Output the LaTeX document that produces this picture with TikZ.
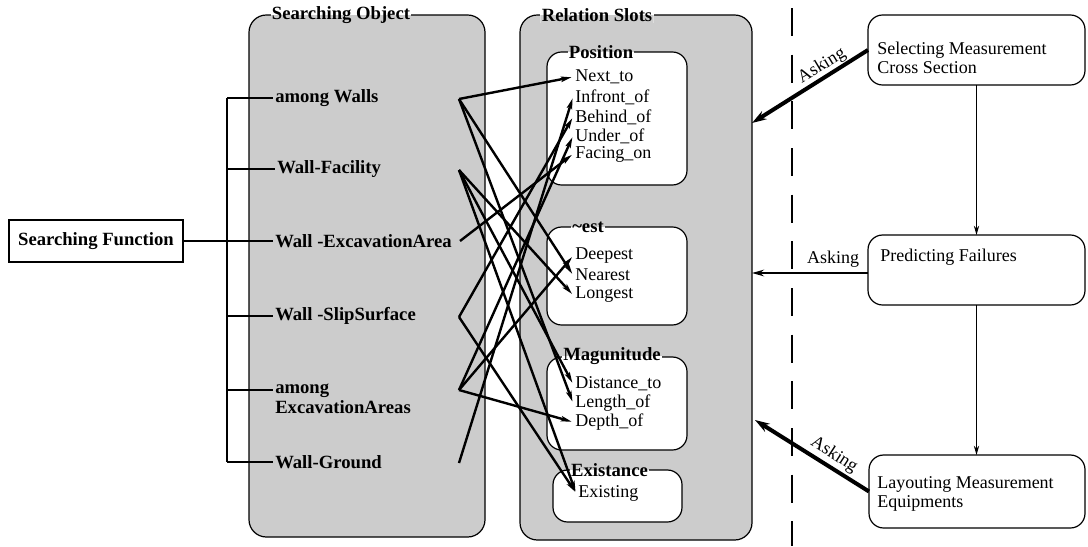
\documentclass[tikz,border=0pt]{standalone}
\usepackage{fontspec}
\setmainfont{Liberation Serif}
\usetikzlibrary{arrows.meta,calc}
\definecolor{dotgray}{gray}{0.8}
\begin{document}
\begin{tikzpicture}[x=0.75pt,y=-0.75pt,
  txt/.style={font=\fontsize{13.5}{14.25}\selectfont, inner sep=1.5pt},
  btxt/.style={font=\fontsize{14}{15}\selectfont\bfseries, inner sep=1.5pt},
  panel/.style={draw, line width=0.9pt, rounded corners=13pt, fill=dotgray, inner sep=0pt, outer sep=0pt},
  slot/.style={draw, line width=0.9pt, rounded corners=11pt, fill=white, inner sep=0pt, outer sep=0pt},
  proc/.style={draw, line width=0.9pt, rounded corners=11pt, inner sep=0pt, outer sep=0pt},
  toptitle/.style={btxt, inner sep=1pt, fill=white,
    path picture={\fill[dotgray] (path picture bounding box.west) rectangle (path picture bounding box.south east);}},
  subtitle/.style={btxt, inner sep=1pt, fill=white,
    path picture={\fill[dotgray] (path picture bounding box.north west) rectangle (path picture bounding box.east);}},
  item/.style={txt, anchor=west},
  obj/.style={btxt, anchor=west, align=left},
  link/.style={line width=1.8pt, -{Stealth[length=8pt,width=4pt,inset=1.5pt]}, shorten >=1pt},
  ask/.style={line width=3pt, -{Stealth[length=11pt,width=7pt]}},
  askh/.style={line width=1.5pt, -{Stealth[length=9pt,width=5pt]}},
  flow/.style={line width=0.8pt, -{Stealth[length=7pt,width=4pt]}},
  tie/.style={line width=1pt}]

\useasboundingbox (0,0) rectangle (1088,546);

% ---- containers ----
\node[panel, minimum width=177pt, minimum height=391.5pt] (so) at (367,276) {};
\node[panel, minimum width=174pt, minimum height=393.75pt] (rs) at (636,277.5) {};

\node[slot, minimum width=105pt, minimum height=99.75pt] (pos) at (617,118.5) {};
\node[slot, minimum width=105pt, minimum height=73.5pt]  (est) at (617,276) {};
\node[slot, minimum width=105pt, minimum height=69.75pt] (mag) at (617,403.5) {};
\node[slot, minimum width=96.75pt, minimum height=39pt]  (exb) at (617.5,496) {};

% ---- titles on the borders ----
\node[toptitle] (soT) at (341,15) {Searching Object};
\node[toptitle] (rsT) at (597,15) {Relation Slots};
\node[subtitle] (posT) at (601,52) {Position};
\node[subtitle] (estT) at (588,227) {\textasciitilde est};
\node[subtitle] (magT) at (612,356) {Magunitude};
\node[subtitle] (exbT) at (609.5,470) {Existance};

% ---- slot entries ----
\node[item] (nxt) at (573,77)  {Next\_to};
\node[item] (inf) at (573,97)  {Infront\_of};
\node[item] (beh) at (573,117) {Behind\_of};
\node[item] (und) at (573,136) {Under\_of};
\node[item] (fac) at (573,154) {Facing\_on};
\node[item] (dee) at (573,256) {Deepest};
\node[item] (nea) at (573,275) {Nearest};
\node[item] (lon) at (573,295) {Longest};
\node[item] (dis) at (573,384) {Distance\_to};
\node[item] (len) at (573,403) {Length\_of};
\node[item] (dep) at (573,422) {Depth\_of};
\node[item] (exi) at (576,493) {Existing};

% ---- searching objects ----
\node[obj] (aw)  at (273,98)  {among Walls};
\node[obj] (wf)  at (275,169) {Wall-Facility};
\node[obj] (wea) at (273,241) {Wall -ExcavationArea};
\node[obj] (wss) at (273,316) {Wall -SlipSurface};
\node[obj] (aea) at (273,399) {among\\ExcavationAreas};
\node[obj] (wg)  at (273,462) {Wall-Ground};

% ---- searching function and its tree ----
\node[draw, line width=0.9pt, minimum width=130.5pt, minimum height=31.5pt, btxt] (sf) at (96,241) {Searching Function};

\coordinate (bus) at (227,0);
\coordinate (cAW) at (459,99);
\coordinate (cWF) at (459,170);
\coordinate (cWE) at (460,241);
\coordinate (cWS) at (459,317);
\coordinate (cAE) at (459,390);
\coordinate (cWG) at (459,463);

\draw[tie] (bus |- aw.west) -- (bus |- wg.west);
\draw[tie] (bus |- aw.west) -- (aw.west);
\draw[tie] (bus |- wf.west) -- (wf.west);
\draw[tie] (bus |- wss.west) -- (wss.west);
\draw[tie] (bus |- cAE) -- (aea.west |- cAE);
\draw[tie] (bus |- wg.west) -- (wg.west);
\draw[line width=1.5pt] (sf.east) -- (sf.east -| wea.west);

% ---- relations between objects and slots ----
\draw[link] (cAW) -- (nxt.west);
\draw[link] (cAW) -- (nea.west);
\draw[link] (cAW) -- (len.west);
\draw[link] (cWF) -- (lon.west);
\draw[link] (cWF) -- (dis.west);
\draw[link] (cWF) -- (exi.west);
\draw[link] (cWE) -- (fac.west);
\draw[link] (cWS) -- (beh.west);
\draw[link] (cWS) -- (exi.west);
\draw[link] (cAE) -- (und.west);
\draw[link] (cAE) -- (dee.west);
\draw[link] (cAE) -- (dep.west);
\draw[link] (cWG) -- (inf.west);

% ---- separator ----
\coordinate (dT) at (792,8);
\coordinate (dB) at (792,546);
\draw[line width=0.8pt, dash pattern=on 21pt off 14pt] (dT) -- (dB);

% ---- processes ----
\node[proc, minimum width=162.75pt, minimum height=52.5pt] (sel) at (976.5,50) {};
\node[txt, anchor=west, align=left] (selT) at (875,58) {Selecting Measurement\\Cross Section};
\node[proc, minimum width=162.75pt, minimum height=52.5pt] (pre) at (976.5,270) {};
\node[txt, anchor=west] (preT) at (878,257) {Predicting Failures};
\node[proc, minimum width=162pt, minimum height=54.75pt] (lay) at (977,491.5) {};
\node[txt, anchor=west, align=left] (layT) at (875,494) {Layouting Measurement\\Equipments};

\draw[flow] (sel.south) -- (pre.north);
\draw[flow] (pre.south) -- (pre.south |- lay.north);

\coordinate (rsA) at (752,123);
\coordinate (rsB) at (752,273);
\coordinate (rsC) at (755,420);
\draw[ask] (sel.west) -- (rsA);
\draw[askh] (pre.west |- rsB) -- (rsB);
\draw[ask] (lay.west) -- (rsC);
\node[txt, rotate=31]  (ask1) at (822,66)  {Asking};
\node[txt]             (ask2) at (833,259) {Asking};
\node[txt, rotate=-33] (ask3) at (834,455) {Asking};

\end{tikzpicture}
\end{document}
